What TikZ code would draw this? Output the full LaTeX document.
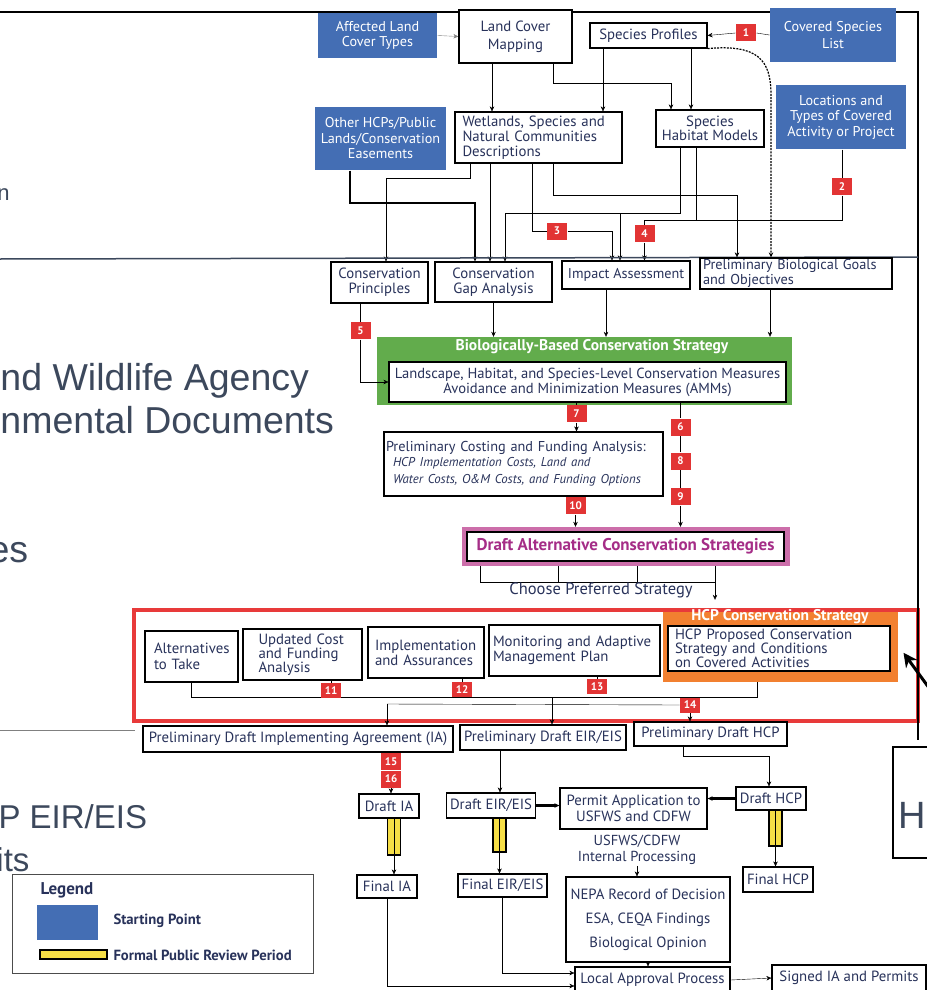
\documentclass[tikz,border=0pt]{standalone}
\usepackage{fontspec}
\setmainfont{PT Sans}
\newfontfamily\slidefont{Liberation Sans}
\usetikzlibrary{arrows.meta, positioning, backgrounds}
\definecolor{ink}{RGB}{40,50,90}
\definecolor{slate}{RGB}{60,72,92}
\definecolor{startblue}{RGB}{68,110,180}
\definecolor{badgered}{RGB}{226,52,52}
\definecolor{bioGreen}{RGB}{98,172,76}
\definecolor{draftpink}{RGB}{204,110,170}
\definecolor{draftmag}{RGB}{165,45,135}
\definecolor{hcporange}{RGB}{242,128,48}
\definecolor{framered}{RGB}{232,58,58}
\definecolor{reviewyellow}{RGB}{246,222,70}
\tikzstyle{box} = [rectangle, draw=black, line width=1.2pt, fill=white, text=ink, align=center, inner sep=2pt, font=\fontsize{14.8}{16}\selectfont]
\tikzstyle{leftbox} = [box, align=left]
\tikzstyle{startbox} = [rectangle, fill=startblue, text=white, align=center, inner sep=2pt, font=\fontsize{14.2}{15.5}\selectfont]
\tikzstyle{badge} = [rectangle, fill=badgered, text=white, minimum width=20pt, minimum height=17pt, inner sep=0pt, font=\bfseries\fontsize{11}{11}\selectfont]
\tikzstyle{frame} = [rectangle, inner sep=0pt]
\tikzstyle{reviewbar} = [rectangle, draw=black, line width=1.2pt, fill=reviewyellow, minimum width=13pt, inner sep=0pt]
\tikzstyle{slidetext} = [inner sep=0pt, text=slate, font=\slidefont\fontsize{37.5}{40}\selectfont]
\tikzstyle{arr} = [-{Stealth[length=5pt, width=4.5pt]}]

\begin{document}
\begin{tikzpicture}[x=1pt, y=-1pt, line width=1pt]
\useasboundingbox (0,0) rectangle (926,990);

% slide text behind the chart
\node (frag) [slidetext, font=\slidefont\fontsize{22}{24}\selectfont, anchor=base east] at (10,200) {n};
\node (agency) [slidetext, anchor=base west] at (0,390) {nd Wildlife Agency};
\node (envdocs) [slidetext, anchor=base west] at (0,433) {nmental Documents};
\node (es) [slidetext, anchor=base west] at (-12,562) {es};
\node (eir) [slidetext, font=\slidefont\fontsize{33}{36}\selectfont, anchor=base west] at (-2,828) {P EIR/EIS};
\node (its) [slidetext, font=\slidefont\fontsize{33}{36}\selectfont, anchor=base west] at (-4,871) {its};
\draw[line width=2pt] (0,12) -- (918,12) -- (918,740);
\draw[slate, line width=1.5pt] (0,259) -- (918,257);
\draw[gray, line width=0.8pt] (0,730) -- (135,730);

% colour frames
\begin{scope}[on background layer]
\node (grn) [frame, fill=bioGreen, minimum width=415pt, minimum height=68pt] at (584.5,371) {};
\node (pink) [frame, fill=draftpink, minimum width=328pt, minimum height=39pt] at (626,546.5) {};
\node (hcp) [frame, fill=hcporange, minimum width=235pt, minimum height=73pt] at (780.5,645.5) {};
\node (redframe) [frame, draw=framered, line width=4pt, minimum width=784pt, minimum height=111pt] at (526,665.5) {};
\node (rv1) [reviewbar, minimum height=37pt] at (394,836.5) {};
\node (rv2) [reviewbar, minimum height=34pt] at (499.5,835) {};
\node (rv3) [reviewbar, minimum height=36pt] at (775.5,828) {};
\end{scope}

% inputs
\node (aff) [startbox, minimum width=119pt, minimum height=45pt] at (377.5,35.5) {Affected Land\\Cover Types};
\node (lcm) [box, minimum width=113pt, minimum height=53pt, font=\fontsize{14.8}{18}\selectfont] at (515.5,36.5) {Land Cover\\Mapping};
\node (spp) [box, minimum width=117pt, minimum height=25pt] at (648.5,35.5) {Species Profiles};
\node (b1) [badge] at (746,33) {1};
\node (csl) [startbox, minimum width=126pt, minimum height=54pt, font=\fontsize{14.2}{17}\selectfont] at (833,35) {Covered Species\\List};
\node (oth) [startbox, minimum width=131pt, minimum height=63pt] at (380.5,138.5) {Other HCPs/Public\\Lands/Conservation\\Easements};
\node (wet) [leftbox, minimum width=167pt, text width=152pt, minimum height=51pt, inner sep=1pt, font=\fontsize{14.8}{15}\selectfont] at (538.5,137.5) {Wetlands, Species and\\Natural Communities\\Descriptions};
\node (shm) [box, minimum width=108pt, minimum height=37pt, font=\fontsize{14.8}{13.5}\selectfont] at (710,128.5) {Species\\Habitat Models};
\node (loc) [startbox, minimum width=130pt, minimum height=64pt] at (841,117) {Locations and\\Types of Covered\\Activity or Project};
\node (b2) [badge] at (842,186.5) {2};
\node (b3) [badge] at (557,231) {3};
\node (b4) [badge] at (644.5,233.5) {4};

% analyses
\node (cpr) [box, minimum width=97pt, minimum height=41pt, font=\fontsize{14.8}{15}\selectfont] at (379.5,282.5) {Conservation\\Principles};
\node (cga) [box, minimum width=117pt, minimum height=40pt, font=\fontsize{14.8}{15}\selectfont] at (493.5,282) {Conservation\\Gap Analysis};
\node (ima) [box, minimum width=128pt, minimum height=28pt, font=\fontsize{14.2}{15}\selectfont] at (626,275) {Impact Assessment};
\node (pbg) [leftbox, minimum width=192pt, text width=186pt, minimum height=31pt, inner sep=1pt, font=\fontsize{14.3}{13}\selectfont] at (796,273.5) {Preliminary Biological Goals\\and Objectives};
\node (b5) [badge] at (360.5,330.5) {5};

% strategy
\node (grntitle) [text=white, inner sep=0pt, font=\bfseries\fontsize{15.5}{15.5}\selectfont] at (592,347) {Biologically-Based Conservation Strategy};
\node (lhs) [box, minimum width=397pt, minimum height=40pt, inner sep=1pt, font=\fontsize{14.6}{15}\selectfont] at (587.5,382) {Landscape, Habitat, and Species-Level Conservation Measures\\Avoidance and Minimization Measures (AMMs)};
\node (b7) [badge] at (576.5,413.5) {7};
\node (b6) [badge] at (680.5,427) {6};
\node (b8) [badge] at (680.5,461) {8};
\node (b9) [badge] at (680.5,496.5) {9};
\node (pcf) [leftbox, minimum width=279pt, text width=275pt, minimum height=64pt, inner sep=1pt, font=\fontsize{14.3}{17}\selectfont] at (523.5,464) {Preliminary Costing and Funding Analysis:\\\hspace*{7pt}\itshape\fontsize{12.8}{15}\selectfont HCP Implementation Costs, Land and\\\hspace*{7pt}\itshape\fontsize{12.8}{15}\selectfont Water Costs, O\&M Costs, and Funding Options};
\node (b10) [badge] at (575.5,505.5) {10};
\node (das) [box, minimum width=317pt, minimum height=29pt, inner sep=1pt, text=draftmag, font=\bfseries\fontsize{17}{17}\selectfont] at (625.5,546.5) {Draft Alternative Conservation Strategies};
\node (cps) [text=ink, inner sep=1pt, font=\fontsize{16.5}{16.5}\selectfont] at (601,590) {Choose Preferred Strategy};

% HCP elements
\node (alt) [leftbox, minimum width=93pt, text width=75pt, minimum height=51pt] at (191.5,656.5) {Alternatives\\to Take};
\node (ucf) [leftbox, minimum width=119pt, text width=88pt, minimum height=51pt, font=\fontsize{14.8}{14}\selectfont] at (302.5,654.5) {Updated Cost\\and Funding\\Analysis};
\node (ias) [leftbox, minimum width=116pt, text width=102pt, minimum height=51pt, font=\fontsize{14.8}{15}\selectfont] at (426,652.5) {Implementation\\and Assurances};
\node (mam) [leftbox, minimum width=171pt, text width=163pt, minimum height=51pt, font=\fontsize{14.8}{15}\selectfont] at (574.5,650.5) {Monitoring and Adaptive\\Management Plan};
\node (hcptitle) [text=white, inner sep=0pt, font=\bfseries\fontsize{15.5}{15.5}\selectfont] at (780,617) {HCP Conservation Strategy};
\node (hcpin) [leftbox, minimum width=222pt, text width=208pt, minimum height=45pt, inner sep=1pt, font=\fontsize{14.8}{13.5}\selectfont] at (779,648.5) {HCP Proposed Conservation\\Strategy and Conditions\\on Covered Activities};
\node (b11) [badge, minimum height=15pt] at (331,690.5) {11};
\node (b12) [badge, minimum height=15pt] at (462,689.5) {12};
\node (b13) [badge, minimum height=15pt] at (597,686.5) {13};
\node (b14) [badge, minimum height=15pt] at (690,705) {14};

% documents
\node (pia) [box, minimum width=310pt, minimum height=26pt] at (298,739) {Preliminary Draft Implementing Agreement (IA)};
\node (pei) [box, minimum width=166pt, minimum height=25pt] at (543,737.5) {Preliminary Draft EIR/EIS};
\node (phc) [box, minimum width=153pt, minimum height=24pt] at (710.5,734) {Preliminary Draft HCP};
\node (b15) [badge] at (391,761.5) {15};
\node (b16) [badge] at (391,779) {16};
\node (dia) [box, minimum width=60pt, minimum height=24pt] at (389,806) {Draft IA};
\node (dei) [box, minimum width=89pt, minimum height=25pt] at (491,805.5) {Draft EIR/EIS};
\node (pap) [box, minimum width=147pt, minimum height=41pt] at (633.5,808.5) {Permit Application to\\USFWS and CDFW};
\node (dhc) [box, minimum width=70pt, minimum height=23pt] at (771,798.5) {Draft HCP};
\node (ipr) [text=ink, align=center, inner sep=1pt, font=\fontsize{14.5}{15.5}\selectfont] at (637,850) {USFWS/CDFW\\Internal Processing};
\node (fia) [box, minimum width=60pt, minimum height=23pt] at (387,886.5) {Final IA};
\node (fei) [box, minimum width=89pt, minimum height=23pt] at (502.5,885.5) {Final EIR/EIS};
\node (nep) [box, minimum width=164pt, minimum height=85pt, font=\fontsize{14.8}{24}\selectfont] at (648,919.5) {NEPA Record of Decision\\ESA, CEQA Findings\\Biological Opinion};
\node (fhc) [box, minimum width=70pt, minimum height=25pt] at (778,879.5) {Final HCP};
\node (lap) [box, minimum width=155pt, minimum height=26pt] at (652.5,980) {Local Approval Process};
\node (sig) [box, minimum width=154pt, minimum height=26pt] at (849,978) {Signed IA and Permits};

% right edge of next slide part
\draw[line width=1.5pt] (935,747) -- (893,747) -- (893,858) -- (935,858);
\node (hfrag) [slidetext, font=\slidefont\fontsize{38}{40}\selectfont, anchor=base west] at (898,828) {H};
\coordinate (ptr) at (932,692);
\draw[line width=3pt, -{Stealth[length=14pt, width=14pt]}, shorten >=9pt] (ptr) -- (hcp.east);

% legend
\node (leg) [rectangle, draw=black!70, line width=1pt, fill=white, minimum width=301pt, minimum height=99pt] at (162.5,923.5) {};
\node (legtitle) [text=ink, anchor=west, inner sep=0pt, font=\bfseries\fontsize{17}{17}\selectfont] at (40,890) {Legend};
\node (legblue) [fill=startblue, minimum width=61pt, minimum height=35pt, inner sep=0pt] at (67.5,922.5) {};
\node (legstart) [text=ink, anchor=west, inner sep=0pt, font=\bfseries\fontsize{14.7}{15}\selectfont] at (113,921) {Starting Point};
\node (legyellow) [draw=black, line width=1.5pt, fill=reviewyellow, minimum width=67pt, minimum height=9pt, inner sep=0pt] at (73.5,954.5) {};
\node (legreview) [text=ink, anchor=west, inner sep=0pt, font=\bfseries\fontsize{14.7}{15}\selectfont] at (113,955) {Formal Public Review Period};

% connectors
\begin{scope}[on background layer]
\draw[arr, gray] (aff.east) -- (lcm.west);
\draw (csl.west) -- (b1.east);
\draw[arr] (b1.west) -- (spp.east);
\draw[arr] (lcm.south -| 492,0) -- (wet.north -| 492,0);
\draw[arr] (lcm.south -| 553,0) |- (671,83) -- (shm.north -| 671,0);
\draw[arr] (spp.south -| 603,0) -- (wet.north -| 603,0);
\draw[arr] (spp.south -| 691,0) -- (shm.north -| 691,0);
\draw[arr, line width=1.2pt, dash pattern=on 2pt off 1.2pt] (spp.south east) .. controls (758,44) and (771,60) .. (771,95) -- (pbg.north -| 771,0);
\draw[arr, line width=2pt] (oth.south -| 350,0) |- (475,203) -- (cga.north -| 475,0);
\draw[arr] (wet.south -| 470,0) |- (386,178) -- (cpr.north -| 386,0);
\draw[arr] (wet.south -| 490,0) -- (cga.north -| 490,0);
\draw (wet.south -| 532,0) |- (b3.west);
\draw[arr] (b3.east) -| (ima.north -| 612,0);
\draw[arr] (wet.south -| 553,0) |- (737,195) -- (pbg.north -| 737,0);
\draw[arr] (shm.south -| 680,0) |- (505,213) -- (cga.north -| 505,0);
\draw[arr] (620,213) -- (ima.north -| 620,0);
\draw (shm.south -| 696,0) |- (b4.north |- 0,220) -- (b4.north);
\draw (loc.south -| b2) -- (b2.north);
\draw (b2.south) |- (696,220);
\draw[arr] (b4.south) -- (ima.north -| b4);
\draw (cpr.south -| b5) -- (b5.north);
\draw[arr] (b5.south) |- (lhs.west);
\draw[arr] (cga.south) -- (cga.south |- grn.north);
\draw[arr] (ima.south -| 606,0) -- (grn.north -| 606,0);
\draw[arr] (pbg.south -| 770,0) -- (grn.north -| 770,0);
\draw (lhs.south -| b7) -- (b7.north);
\draw[arr] (b7.south) -- (pcf.north -| b7);
\draw (lhs.south -| b6) -- (b6.north);
\draw (b6.south) -- (b8.north);
\draw (b8.south) -- (b9.north);
\draw[arr] (b9.south) -- (pink.north -| b9);
\draw (pcf.south -| b10) -- (b10.north);
\draw[arr] (b10.south) -- (pink.north -| b10);
\draw (pink.south -| 480,0) |- (715,582);
\draw (pink.south -| 558,0) -- (558,582);
\draw (pink.south -| 637,0) -- (637,582);
\draw[arr, shorten >=9pt] (pink.south -| 715,0) -- (hcp.north -| 715,0);
\draw (alt.south) |- (757,697) -- (hcp.south -| 757,0);
\draw (ucf.south -| b11) -- (b11.north);
\draw (ias.south -| b12) -- (b12.north);
\draw (mam.south -| b13) -- (b13.north);
\draw (552,697) -- (552,704);
\draw (387,704) -- (b14.west);
\draw[arr] (387,704) -- (pia.north -| 387,0);
\draw[arr] (552,704) -- (pei.north -| 552,0);
\draw[arr] (b14.south) -- (phc.north -| b14);
\draw (pia.south -| b15) -- (b15.north);
\draw[arr] (b16.south) -- (dia.north -| b16);
\draw[arr] (pei.south -| 500,0) -- (dei.north -| 500,0);
\draw[arr] (phc.south -| 683,0) |- (769,756) -- (dhc.north -| 769,0);
\draw[arr] (rv1.north |- dia.south) -- (rv1.south |- fia.north);
\draw[arr] (rv2.north |- dei.south) -- (rv2.south |- fei.north);
\draw[arr] (rv3.north |- dhc.south) -- (rv3.south |- fhc.north);
\draw[arr, line width=2.2pt] (dei.east) -- (dei.east -| pap.west);
\draw[arr, line width=2.2pt] (dhc.west) -- (dhc.west -| pap.east);
\draw[arr] (ipr.south) -- (nep.north -| ipr);
\draw[arr] (fia.south) |- (lap.west |- 0,986);
\draw[arr] (fei.south) |- (lap.west |- 0,973);
\draw[arr] (nep.south) -- (lap.north -| nep);
\draw[arr] (lap.east) -- (sig.west);
\end{scope}
\end{tikzpicture}
\end{document}
